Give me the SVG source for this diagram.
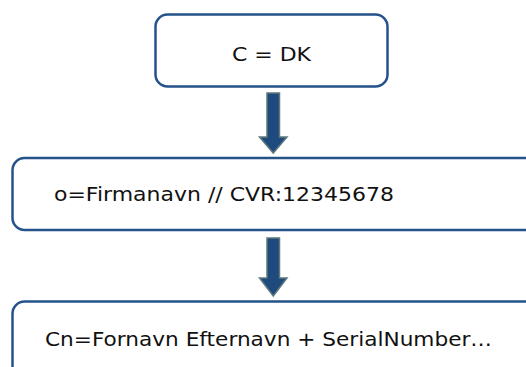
<svg xmlns="http://www.w3.org/2000/svg" width="526" height="367" viewBox="0 0 526 367">
<defs>
<style>
.box{fill:#ffffff;stroke:#24528a;stroke-width:2.5}
.arrow{fill:#1f4a7e;stroke:#5e7a7c;stroke-width:1.5}
.lbl{font-family:"DejaVu Sans",Verdana,sans-serif;font-size:19.5px;fill:#111111}
</style>
</defs>
<rect width="526" height="367" fill="#ffffff"/>
<g id="connectors">
<polygon class="arrow" points="267,93 279.5,93 279.5,137 287,137 273.25,153 259.5,137 267,137"/>
<polygon class="arrow" points="267,238 279.5,238 279.5,278 287,278 273.25,296 259.5,278 267,278"/>
</g>
<g id="node-c">
<rect class="box" x="155.5" y="14.5" width="232" height="72" rx="12"/>
<text class="lbl" x="271.5" y="61" text-anchor="middle" textLength="79" lengthAdjust="spacingAndGlyphs">C = DK</text>
</g>
<g id="node-o">
<rect class="box" x="12.5" y="158" width="530" height="72" rx="12"/>
<text class="lbl" x="54" y="201" textLength="340" lengthAdjust="spacingAndGlyphs">o=Firmanavn // CVR:12345678</text>
</g>
<g id="node-cn">
<rect class="box" x="12.5" y="301.5" width="530" height="90" rx="12"/>
<text class="lbl" x="45" y="345.5" textLength="447" lengthAdjust="spacingAndGlyphs">Cn=Fornavn Efternavn + SerialNumber…</text>
</g>
</svg>
